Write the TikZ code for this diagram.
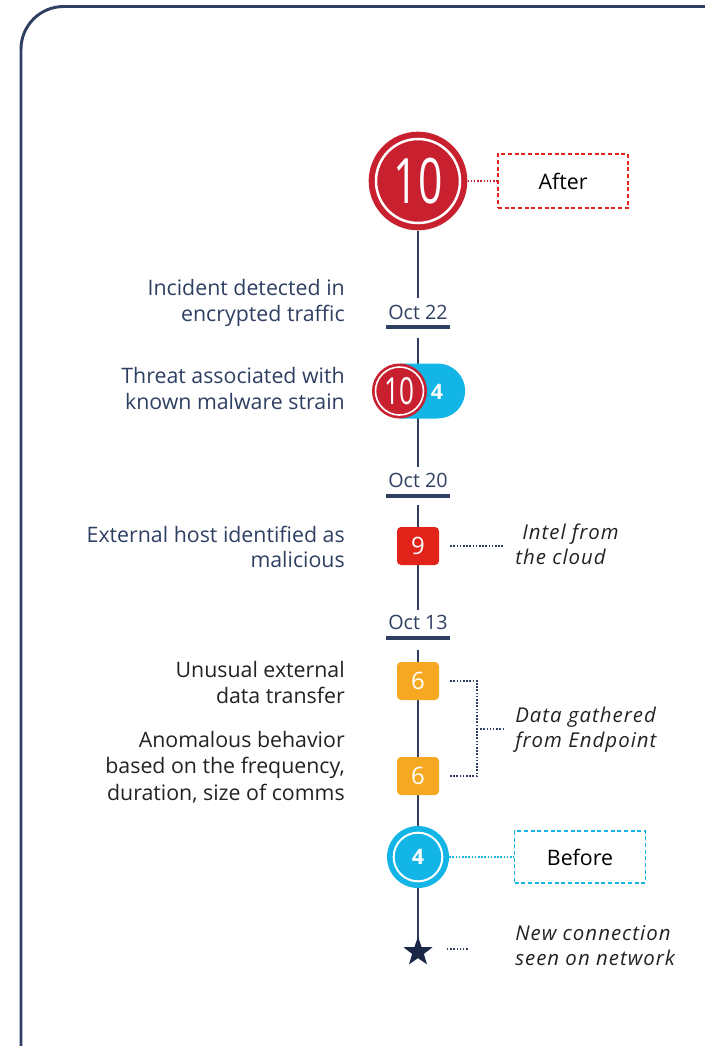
\documentclass[tikz,border=0pt]{standalone}
\usepackage{fontspec}
\usepackage{graphicx}
\setmainfont{Open Sans}
\usetikzlibrary{shapes.geometric,shapes.misc,backgrounds}
\definecolor{navy}{HTML}{2E3F62}
\definecolor{darknavy}{HTML}{1B2747}
\definecolor{crim}{HTML}{C8202F}
\definecolor{redb}{HTML}{E2231A}
\definecolor{orng}{HTML}{F7A823}
\definecolor{cyanb}{HTML}{12B5E5}
\definecolor{txt}{HTML}{222222}
\begin{document}
\begin{tikzpicture}[x=0.75pt,y=-0.75pt,
  spine/.style={draw=navy,line width=2.2pt},
  dotc/.style={draw=navy,line width=1.3pt,dash pattern=on 1.1pt off 1.3pt},
  dotr/.style={draw=crim,line width=1.3pt,dash pattern=on 1.1pt off 1.3pt},
  leftlab/.style={anchor=base east,inner sep=0pt,text=navy,font=\fontsize{16}{18}\selectfont},
  leftlabk/.style={anchor=base east,inner sep=0pt,text=txt,font=\fontsize{16}{18}\selectfont},
  rightlab/.style={anchor=base west,inner sep=0pt,text=txt,font=\fontsize{15.3}{18}\selectfont\itshape\addfontfeatures{LetterSpace=5}},
  datelab/.style={anchor=base,inner sep=0pt,text=navy,font=\fontsize{14.8}{18}\selectfont},
  sqbox/.style={rectangle,rounded corners=3pt,minimum width=31.5pt,minimum height=28.5pt,inner sep=0pt,text=white,font=\fontsize{18}{20}\selectfont},
  tagbox/.style={rectangle,line width=1.2pt,dash pattern=on 3pt off 2pt,inner sep=0pt,text=black,font=\fontsize{16}{20}\selectfont},
  ring/.style={circle,draw=white,inner sep=0pt}
]
\useasboundingbox (0,0) rectangle (704,1046);
% frame
\draw[navy,line width=2.2pt,rounded corners=32pt] (21,1060) -- (21,6.5) -- (720,6.5);

% big circle "10"
\node[circle,fill=crim,minimum size=74pt,inner sep=0pt] (after) at (418,181) {};
\node[ring,line width=1.9pt,minimum size=63pt] (afterring) at (418,181) {};
\node[text=white,inner sep=0pt,font=\fontsize{47}{47}\selectfont] (afterten) at (418,181) {\scalebox{0.68}[1]{10}};
\node[tagbox,draw=redb,minimum width=97.5pt,minimum height=40.5pt] (afterbox) at (563,181) {After};
\draw[dotr] (after.east) -- (afterbox.west);

% dates
\node[datelab] (d22) at (418,319) {Oct 22};
\node[datelab] (d20) at (418,487) {Oct 20};
\node[datelab] (d13) at (418,629) {Oct 13};
\draw[navy,line width=3pt] (386,327) coordinate (u22a) -- (450,327) coordinate (u22b);
\draw[navy,line width=3pt] (386,496) coordinate (u20a) -- (450,496) coordinate (u20b);
\draw[navy,line width=3pt] (386,638) coordinate (u13a) -- (450,638) coordinate (u13b);
\coordinate (s22t) at (418,298);
\coordinate (s22b) at (418,338);
\coordinate (s20t) at (418,467);
\coordinate (s20b) at (418,505);
\coordinate (s13t) at (418,610);
\coordinate (s13b) at (418,650);

% pill
\node[rounded rectangle,rounded rectangle west arc=none,fill=cyanb,minimum width=49pt,minimum height=41.25pt,inner sep=0pt] (pill) at (432.5,391) {};
\node[text=white,inner sep=0pt,font=\fontsize{16}{18}\selectfont\bfseries] (pillfour) at (437,392) {4};
\node[circle,fill=crim,minimum size=41.25pt,inner sep=0pt] (pillred) at (399.5,391) {};
\node[ring,line width=1.2pt,minimum size=36pt] (pillring) at (399.5,391) {};
\node[text=white,inner sep=0pt,font=\fontsize{28}{28}\selectfont] (pillten) at (399.5,391) {\scalebox{0.7}[1]{10}};

% boxes
\node[sqbox,fill=redb] (n9) at (418,546) {9};
\node[sqbox,fill=orng] (n6a) at (418,681) {6};
\node[sqbox,fill=orng] (n6b) at (418,776) {6};

% blue circle
\node[circle,fill=cyanb,minimum size=46.5pt,inner sep=0pt] (before) at (418,857) {};
\node[ring,line width=1.5pt,minimum size=36.5pt] (beforering) at (418,857) {};
\node[text=white,inner sep=0pt,font=\fontsize{16}{18}\selectfont\bfseries] (beforefour) at (418,857) {4};
\node[tagbox,draw=cyanb,minimum width=98pt,minimum height=39pt] (beforebox) at (580,857) {Before};
\draw[dotc,draw=cyanb] (before.east) -- (beforebox.west);

% star
\node[star,star points=5,star point ratio=2.5,fill=darknavy,minimum size=23pt,inner sep=0pt] (star) at (418,952) {};

% spine (behind)
\begin{scope}[on background layer]
\draw[spine] (after.south) -- (s22t);
\draw[spine] (s22b) -- (s20t);
\draw[spine] (s20b) -- (n9.north);
\draw[spine] (n9.south) -- (s13t);
\draw[spine] (s13b) -- (n6a.north);
\draw[spine] (n6a.south) -- (n6b.north);
\draw[spine] (n6b.south) -- (before.north);
\draw[spine] (before.south) -- (star.center);
\end{scope}

% left labels
\node[leftlab] (l1a) at (345,295) {Incident detected in};
\node[leftlab] (l1b) at (345,321) {encrypted traffic};
\node[leftlab] (l2a) at (345,383) {Threat associated with};
\node[leftlab] (l2b) at (345,409) {known malware strain};
\node[leftlab] (l3a) at (345,542) {External host identified as};
\node[leftlab] (l3b) at (345,567) {malicious};
\node[leftlabk] (l4a) at (345,677) {Unusual external};
\node[leftlabk] (l4b) at (345,703) {data transfer};
\node[leftlabk] (l5a) at (345,747) {Anomalous behavior};
\node[leftlabk] (l5b) at (345,773) {based on the frequency,};
\node[leftlabk] (l5c) at (345,800) {duration, size of comms};

% right labels
\node[rightlab] (r1a) at (522,539) {Intel from};
\node[rightlab] (r1b) at (515,564) {the cloud};
\node[rightlab] (r2a) at (515,722) {Data gathered};
\node[rightlab] (r2b) at (515,747) {from Endpoint};
\node[rightlab] (r3a) at (515,940) {New connection};
\node[rightlab] (r3b) at (515,965) {seen on network};

% dotted connectors
\coordinate (intelend) at (503,546);
\draw[dotc] ([xshift=8.25pt]n9.east) -- (intelend);
\coordinate (br) at (477,729);
\coordinate (brend) at (505,729);
\draw[dotc] ([xshift=8.25pt]n6a.east) -| (br) |- ([xshift=8.25pt]n6b.east);
\draw[dotc] (br) -- (brend);
\coordinate (stara) at (447,949);
\coordinate (starb) at (469,949);
\draw[dotc] (stara) -- (starb);
\end{tikzpicture}
\end{document}
